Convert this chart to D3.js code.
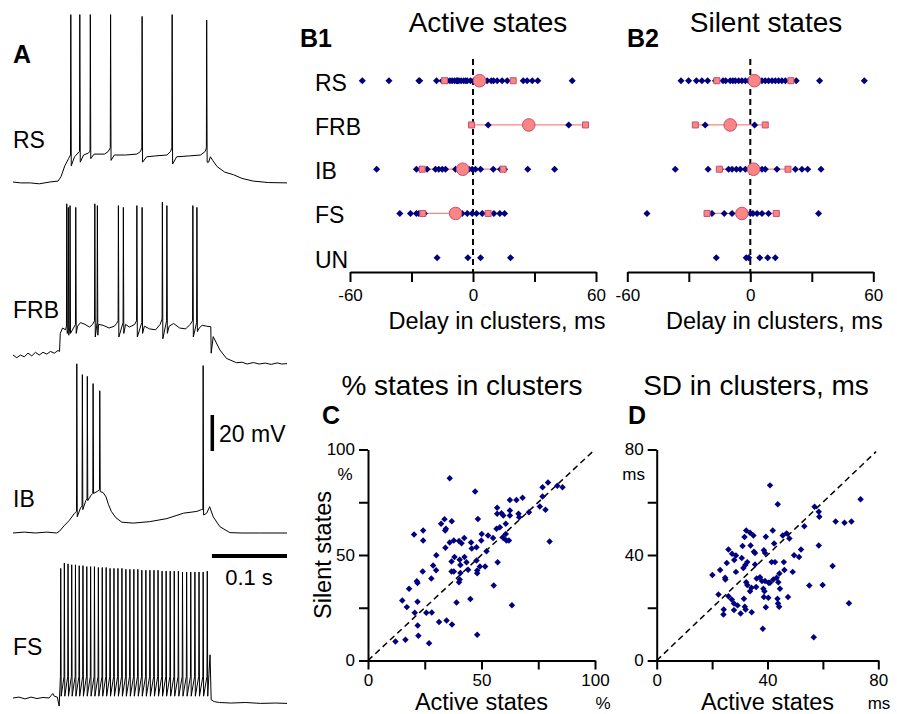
<!DOCTYPE html>
<html>
<head>
<meta charset="utf-8">
<script src="https://cdn.jsdelivr.net/npm/d3@7"></script>
<style>
body { margin: 0; background: #fff; }
svg text { font-family: "Liberation Sans", Arial, sans-serif; fill: #000; }
</style>
</head>
<body>
<div id="chart"></div>
<script>
/* ---------------------------------------------------- +/
   Data
/+ ---------------------------------------------------- */

// Panel A: voltage traces, time in ms, voltage in mV above rest
// spikes are [time, threshold, peak, trough]
var rsWave = [[0,0],[10,-0.5],[23,-0.5],[35,-1],[49,0],[60,0.5],[64,3],[69,9],[74,13],
  [82,14],[94,15],[100,16],[108,15.5],[122,15.5],[127,17],[135,15],[150,15],[165,15.5],[170,17],
  [178,14],[190,14.5],[205,15],[210,17],[218,14],[235,14.5],[250,15],[256,17],
  [260.5,11],[263,14],[266,12],[272,8.5],[282,5.5],[294,4],[305,2],[320,0.5],[340,-0.3],[365,-0.5]];
var rsSpikes = [[77,15,93,9],[89,17,93,11],[103,17,93,13],[130,19,93,12],[172,19,92,11],[212,19,93,10],[258,19,90,11]];

var frbWave = [[0,0],[5,-1.5],[10,0],[15,-1],[20,1],[25,-0.5],[30,1.5],[35,0],[40,1.5],[45,0.5],[50,2],[55,1],
  [60,2.5],[62,2],[63,12],[66,15],[70,14],[86,16],[90,18],[96,17],[102,15.5],[106,17],[114,17],[120,16.5],
  [128,15],[135,16],[138,17.5],[150,17],[155,15.5],[162,17],[175,16],[182,14.5],[190,14],[196,17],[208,16],
  [214,17.5],[222,15],[230,14.5],[236,17],[248,15],[252,16.5],[258,16],[263.5,15.7],[264,1],[266.7,10.2],
  [275.6,2.8],[284.4,-1.9],[297.8,-4.3],[305,-4],[312,-5],[320,-4.2],[328,-5],[336,-4.5],[344,-5.2],[352,-4.4],[358,-5],[365,-4.8]];
var frbSpikes = [[71.6,16,84,12],[73.7,14,82,11],[76,15,83,12],[83.6,17,82,12],[109,19,84,10],[112.4,18,83,11],
  [140.4,19,83,10],[147,18,82,12],[165,19,83,10],[172,18,82,12],[199,20,85,9],[205,19,83,12],
  [239.6,19,83,10],[245,18,82,13]];

var ibWave = [[0,0],[15,0.5],[30,0],[45,0.5],[58,0],[62,1],[68,4],[75,7],[82,11],[90,14],[97,18],[104,21],
  [112,23],[120,22.5],[124,20],[127,16],[131,12],[137,8.5],[145,6],[160,5.5],[182,6.3],[205,8],[227,11],
  [245,12],[251,13],[258,11],[262,14.6],[266.7,9],[275.6,3.5],[288.9,0.2],[305,0],[330,0],[365,0]];
var ibSpikes = [[85,12,94,9],[92.4,15,88,13],[99,19,87,18],[106.7,22,83,22],[115.6,24,79,23],[253.3,13,93,10]];

var fsWave = [[0,0],[8,0.5],[16,-0.5],[24,0.5],[32,-0.3],[40,0.3],[48,0],[51,1.5],[53,2.5],[55,1],[59,0.5],[61.5,-4.5],
  [261,13],[262.5,24],[264,-1],[268,-2],[275,-2.5],[290,-2.8],[310,-2.5],[330,-3],[350,-2.8],[365,-3]];
var fsSpikeTimes = [63.6,68.4,73.3,78.2,83.2,88.2,93.2,98.3,103.4,108.5,113.7,118.9,124.1,129.3,134.5,139.8,
  145.1,150.4,155.7,161,166.3,171.6,177,182.4,187.8,193.2,198.6,204,209.4,214.8,220.3,225.8,231.3,236.8,
  242.3,247.8,253.3,258.8];
var fsSpikePeaks = [72,75,74.5,74,74,73.5,73.5,73,73,73,72.5,72.5,72.5,72,72,72,72,71.5,71.5,71.5,71.5,
  71,71,71,71,71,70.5,70.5,70.5,70.5,70.5,70,70,70,70,70,70,70.5];
var fsThreshold = 12;
var fsTrough = 1;

var traceNames = ["RS", "FRB", "IB", "FS"];
var timeBar = 100;   // ms
var voltBar = 20;    // mV

// Panels B1 / B2: delay in clusters, ms
var categories = ["RS", "FRB", "IB", "FS", "UN"];
var delayTicks = [-60, -30, 0, 30, 60];

var activeRS = [-54,-41,-26.4,-26,-17.8,-15,-12.5,-11.3,-10.2,-9,-8,-7.5,-6.9,-5.8,-4.5,-3.5,-2.8,-1.2,0.4,2,
  4.5,5.5,6.9,8.9,10,11.8,14.2,16.7,24.5,26.4,28.9,31.6,48.4];
var activeFRB = [7.4, 46.7];
var activeIB = [-47,-27.6,-25.6,-22.4,-18.3,-16.7,-15,-13.4,-8.5,-6.4,-2,-0.4,1.2,3.7,9.9,13.4,15.4,26.7,39.8];
var activeFS = [-35.7,-30.5,-27.6,-26.4,-23.7,-8.5,-5.3,-2.8,-0.4,1.7,4.5,10.2,13.1,15.4];
var activeUN = [-17.5, -2.5, 3.7, 18.3];
var activeMean = [3.2, 27.2, -5, -8.5, null];
var activeLow = [-13.9, -0.7, -24.8, -24.5, null];
var activeHigh = [19.6, 54.9, 14.7, 7.4, null];

var silentRS = [-33.8,-30.1,-26.3,-23.6,-20.8,-17,-13.3,-12,-9.8,-8.5,-7.3,-5.7,-4.1,-2.4,-0.8,3.5,4.5,5.7,7.3,
  8.9,10.6,12.2,13.8,15.4,17.1,22.4,33.8,55.6];
var silentFRB = [-22, 2.1];
var silentIB = [-36.6,-20.6,-14.6,-10.6,-8.9,-6.8,-4.9,-2.4,5.7,7.3,13,22,25.2,28,34.5];
var silentFS = [-50.4,-18.7,-12.7,-8.9,0,1.3,3.3,5.7,8.9,33.3];
var silentUN = [-16.6, -2, -0.8, 4.6, 8.5, 12.2];
var silentMean = [2, -9.8, 1.6, -4.1, null];
var silentLow = [-16.3, -26.8, -15.1, -21.1, null];
var silentHigh = [19.8, 7.3, 18.4, 12.7, null];

// Panel C: % states in clusters (active, silent), one pair per cell
var pctActive = [36,47.2,12.1,16.5,26.9,22.2,48.1,21.9,31.3,34.6,37,25.7,28.1,20.6,17.1,21.8,15.1,39,45.1,63.4,
  18.1,21.8,21.5,27.9,24.1,30,28.7,30.1,40.1,40.4,36.8,37.8,40.7,40.7,40.4,36.8,38.1,42.5,43.4,44.1,48.1,48.1,
  49.3,51.6,47.8,55.4,57.1,34.1,36,37.8,40.1,41.2,42.4,45.4,45.7,47.8,49.9,50.1,52.2,52.9,55.1,58.1,56.6,59.6,
  60.7,61,62.1,60.7,48.4,34,34.3,32.2,33.7,36.9,20.3,24.3,24.3,56.9,56.9,58.8,59.6,62.5,62.5,62.5,65.4,66.3,
  66.6,68.1,70.9,75.7,76.9,76.9,78.2,79.3,80,83.4,85.7];
var pctSilent = [86.4,80.1,9,9.8,8.2,11.7,12.2,16.6,18.2,19,17.1,22.6,22.7,22.6,25.3,27.8,28.4,27.5,29.1,26.2,
  34,36.7,37.6,38.9,42.2,42.8,45,49.9,37.1,38.4,42.2,42.2,45.3,41.5,47.7,46.9,49,49,46.6,43,42.7,41.4,
  44.5,44.5,47.4,35.5,46.6,53.4,55.9,56.9,56.6,55.6,58.1,55.9,53.1,53.7,56.9,60,51.8,59.2,58.1,63.2,62.4,58.1,
  60,56.9,56.9,64.8,67.1,61.6,62.4,64.8,67,66,59.7,61.6,56.9,72.4,69.5,69.8,68.7,71.1,68.7,76.1,76.1,69.5,
  67.9,77.1,70.3,73,77.7,82.1,71.4,84.4,56.4,82.8,82.1];
var pctTicks = [0, 25, 50, 75, 100];

// Panel D: SD in clusters, ms (active, silent)
var sdActive = [40.9,43.7,73.6,57,58.5,58.7,64.6,67.8,70.3,53.3,32.3,33.7,34.9,31.7,39.4,41.9,45.5,46.9,47.9,42.4,
  31,33.9,38.7,39.1,58.5,52.1,35.1,25.9,27.2,28.6,28,32.7,32,31.3,35.5,25.3,22.9,20.1,24.7,24.8,28.6,41.5,42.7,
  45.9,49.6,51.4,63.5,49.1,46.1,44.3,36.1,37.3,39.1,40.9,42.1,43.3,32.3,32.7,34.2,35.9,38,40.4,43.9,44.5,38.5,
  38.9,33.7,55.1,59.9,22.3,25.9,27.1,27.9,31.5,31.8,29.2,24.2,24.1,27.9,30.3,32.1,34.3,38.7,40.3,43.6,43.8,
  44.2,39.4,47.4,69.4,38.3,56.7,35.5,30.7];
var sdSilent = [66.4,59.2,61.1,58.3,56.4,54.5,52.7,52.2,52.7,50.9,49.3,48.4,47.4,46.8,46.9,49.3,47.4,48.2,46.3,44.4,
  43.4,43.6,41.8,40.8,43.6,42.1,41.2,42.1,40.5,39.8,38.1,37.3,36.2,35.1,36.4,37,34.3,32.4,31.4,30.7,33.6,37.3,37.3,
  37.3,39.9,39.2,35.8,33.6,34.3,33,31.1,31.6,30.1,29.5,30.7,31.4,29.7,28.6,27.6,27.9,30.1,29.5,29.7,27.2,27.2,
  26.3,26.3,28.4,28.6,25,24.4,23.1,21.6,23.4,20.4,20.9,19.3,17.4,19.1,17.8,19.3,18.3,24.1,23.8,23.4,21.6,
  20.4,20.2,24.1,21.7,12,8.8,40.8,38.9];
var sdTicks = [0, 20, 40, 60, 80];

/* ---------------------------------------------------- +/
   Drawing
/+ ---------------------------------------------------- */

var width = 897;
var height = 714;
var navy = "#000080";
var pinkFill = "#f98585";
var pinkEdge = "#c9506f";

var svg = d3.select("#chart").append("svg")
    .attr("width", width)
    .attr("height", height);

function label(x, y, txt, size, opts) {
    opts = opts || {};
    return svg.append("text")
        .attr("x", x)
        .attr("y", y)
        .attr("text-anchor", opts.anchor || "start")
        .attr("font-weight", opts.bold ? "bold" : null)
        .style("font-size", size + "px")
        .text(txt);
}

/**
 * Panel A - traces
 */
var xA = d3.scaleLinear().domain([0, 365]).range([13, 287]);
var mvPx = 1.8;
var traceBase = [182, 355, 533, 698];
var fsSpikes = fsSpikeTimes.map(function (t, i) { return [t, fsThreshold, fsSpikePeaks[i], fsTrough]; });
var traces = [[rsWave, rsSpikes], [frbWave, frbSpikes], [ibWave, ibSpikes], [fsWave, fsSpikes]];

function tracePoints(wave, spikes) {
    var pts = wave.slice();
    spikes.forEach(function (s) {
        pts.push([s[0] - 0.4, s[1]], [s[0], s[2]], [s[0] + 0.6, s[3]]);
    });
    return pts.sort(function (a, b) { return a[0] - b[0]; });
}

traces.forEach(function (tr, i) {
    var yA = d3.scaleLinear().domain([0, 20]).range([traceBase[i], traceBase[i] - 20 * mvPx]);
    var line = d3.line().x(function (d) { return xA(d[0]); }).y(function (d) { return yA(d[1]); });
    svg.append("path")
        .datum(tracePoints(tr[0], tr[1]))
        .attr("d", line)
        .attr("fill", "none")
        .attr("stroke", "#000")
        .attr("stroke-width", 1)
        .attr("stroke-linejoin", "round");
});

label(13, 63, "A", 25, { bold: true });
var traceLabelY = [148, 318, 507, 655];
traceNames.forEach(function (n, i) { label(13, traceLabelY[i], n, 23); });

// scale bars
var barTop = 415;
svg.append("line")
    .attr("x1", 212.3).attr("x2", 212.3)
    .attr("y1", barTop).attr("y2", barTop + voltBar * mvPx)
    .attr("stroke", "#000").attr("stroke-width", 3.5);
label(219, 442, "20 mV", 23);
svg.append("line")
    .attr("x1", xA(365 - timeBar)).attr("x2", xA(365))
    .attr("y1", 556).attr("y2", 556)
    .attr("stroke", "#000").attr("stroke-width", 4);
label(249, 585, "0.1 s", 22, { anchor: "middle" });

/**
 * Panels B1 / B2 - delays
 */
var yB = d3.scalePoint().domain(categories).range([80.7, 257.7]);
var diamond = d3.symbol(d3.symbolSquare, 25);
var bigSquare = d3.symbol(d3.symbolSquare, 36);

function drawDelays(x0, delays, means, lows, highs, title, titleX, letter, letterX, rowLabels) {
    var x = d3.scaleLinear().domain([-60, 60]).range([x0, x0 + 246]);

    label(letterX, 47, letter, 25, { bold: true });
    label(titleX, 32, title, 28, { anchor: "middle" });

    // zero line
    svg.append("line")
        .attr("x1", x(0)).attr("x2", x(0))
        .attr("y1", 59).attr("y2", 272)
        .attr("stroke", "#000").attr("stroke-width", 2)
        .attr("stroke-dasharray", "6,4");

    var axis = svg.append("g")
        .attr("transform", "translate(0,272)")
        .call(d3.axisBottom(x).tickValues(delayTicks).tickSize(10).tickSizeOuter(0).tickPadding(7)
            .tickFormat(function (d) { return d % 60 === 0 ? String(d) : ""; }));
    axis.select(".domain").attr("stroke-width", 2);
    axis.selectAll(".tick line").attr("stroke-width", 2);
    axis.selectAll("text").style("font-size", "17px").style("font-family", "'Liberation Sans', Arial, sans-serif");
    label(x0 + 147, 329, "Delay in clusters, ms", 23.5, { anchor: "middle" });

    categories.forEach(function (c, i) {
        var y = yB(c);
        if (rowLabels) label(315, y + 10, c, 23);
        if (means[i] !== null) {
            svg.append("line")
                .attr("x1", x(lows[i])).attr("x2", x(highs[i]))
                .attr("y1", y).attr("y2", y)
                .attr("stroke", pinkFill).attr("stroke-width", 1.3);
        }
        svg.append("g").selectAll("path")
            .data(delays[i])
            .join("path")
            .attr("d", diamond)
            .attr("transform", function (d) { return "translate(" + x(d) + "," + y + ") rotate(45)"; })
            .attr("fill", navy);
        if (means[i] !== null) {
            svg.append("g").selectAll("path")
                .data([lows[i], highs[i]])
                .join("path")
                .attr("d", bigSquare)
                .attr("transform", function (d) { return "translate(" + x(d) + "," + y + ")"; })
                .attr("fill", pinkFill).attr("stroke", pinkEdge).attr("stroke-width", 1);
            svg.append("circle")
                .attr("cx", x(means[i])).attr("cy", y).attr("r", 6.3)
                .attr("fill", pinkFill).attr("stroke", pinkEdge).attr("stroke-width", 1);
        }
    });
}

drawDelays(350, [activeRS, activeFRB, activeIB, activeFS, activeUN], activeMean, activeLow, activeHigh,
    "Active states", 488, "B1", 300, true);
drawDelays(627.3, [silentRS, silentFRB, silentIB, silentFS, silentUN], silentMean, silentLow, silentHigh,
    "Silent states", 766, "B2", 627, false);

/**
 * Panels C / D - scatter plots
 */
var dot = d3.symbol(d3.symbolSquare, 21);

function drawScatter(opt) {
    var x = d3.scaleLinear().domain(opt.domain).range([opt.x0, opt.x1]);
    var y = d3.scaleLinear().domain(opt.domain).range([660.5, 449.5]);
    var fmt = function (d) { return (d === opt.domain[0] || d === opt.domain[1] || d === opt.ticks[2]) ? String(d) : ""; };

    var gx = svg.append("g").attr("transform", "translate(0,660.5)")
        .call(d3.axisBottom(x).tickValues(opt.ticks).tickSize(9).tickSizeOuter(0).tickPadding(4).tickFormat(fmt));
    var gy = svg.append("g").attr("transform", "translate(" + opt.x0 + ",0)")
        .call(d3.axisLeft(y).tickValues(opt.ticks).tickSize(9).tickSizeOuter(0).tickPadding(4).tickFormat(fmt));
    [gx, gy].forEach(function (g) {
        g.select(".domain").attr("stroke-width", 2);
        g.selectAll(".tick line").attr("stroke-width", 2);
        g.selectAll("text").style("font-size", "17px").style("font-family", "'Liberation Sans', Arial, sans-serif");
    });

    svg.append("line")
        .attr("x1", x(opt.domain[0])).attr("y1", y(opt.domain[0]))
        .attr("x2", x(opt.domain[1] * 0.99)).attr("y2", y(opt.domain[1] * 0.99))
        .attr("stroke", "#000").attr("stroke-width", 1.5)
        .attr("stroke-dasharray", "6,4");

    svg.append("g").selectAll("path")
        .data(opt.xs)
        .join("path")
        .attr("d", dot)
        .attr("transform", function (d, i) { return "translate(" + x(d) + "," + y(opt.ys[i]) + ") rotate(45)"; })
        .attr("fill", navy);

    label(opt.letterX, 424, opt.letter, 25, { bold: true });
    label(opt.titleX, 395, opt.title, 28, { anchor: "middle" });
    label((opt.x0 + opt.x1) / 2, 710, "Active states", 23.5, { anchor: "middle" });
    label(opt.unitX, 709, opt.unit, 17, { anchor: "middle" });
    label(opt.x0 - 23, 480, opt.unit, 17, { anchor: "middle" });
}

drawScatter({ domain: [0, 100], ticks: pctTicks, x0: 368, x1: 595, xs: pctActive, ys: pctSilent,
    letter: "C", letterX: 322, title: "% states in clusters", titleX: 462, unit: "%", unitX: 603 });
drawScatter({ domain: [0, 80], ticks: sdTicks, x0: 656.7, x1: 878.3, xs: sdActive, ys: sdSilent,
    letter: "D", letterX: 628, title: "SD in clusters, ms", titleX: 756, unit: "ms", unitX: 879 });

svg.append("text")
    .attr("transform", "translate(331,555) rotate(-90)")
    .attr("text-anchor", "middle")
    .style("font-size", "23.5px")
    .text("Silent states");
</script>
</body>
</html>
